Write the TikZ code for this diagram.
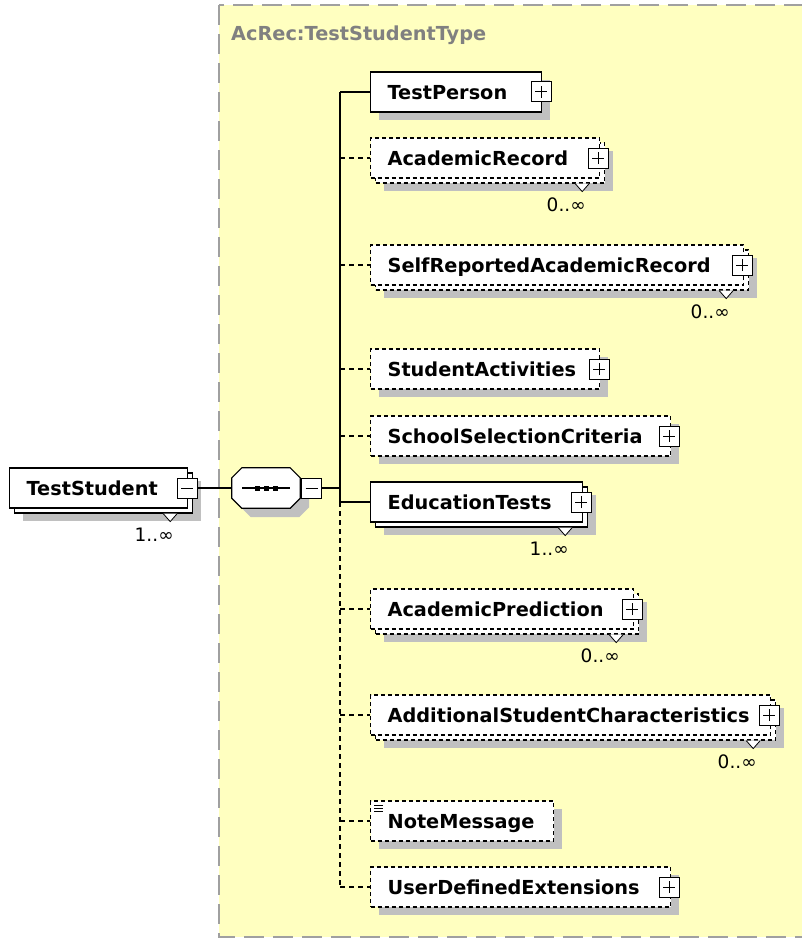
\documentclass[tikz,border=0pt]{standalone}
\usepackage{fontspec}
\setmainfont{DejaVu Sans}
\usetikzlibrary{shadows}
\definecolor{typefill}{RGB}{255,255,192}
\definecolor{typeline}{RGB}{160,160,160}
\definecolor{typetext}{RGB}{128,128,128}
\definecolor{shade}{RGB}{192,192,192}
\newcommand\elemfont{\hyphenpenalty=10000\relax\fontsize{19.3}{22}\selectfont\bfseries}

\begin{document}
\begin{tikzpicture}[x=1pt,y=-1pt,
    every node/.style={font=\elemfont},
    elem/.style={draw, fill=white, line width=1.2pt, anchor=west, align=left,
      minimum height=40pt, inner xsep=17pt, inner ysep=0pt, text height=14.1pt, text depth=0pt},
    opt/.style={dash pattern=on 4pt off 3pt},
    single/.style={drop shadow={shadow xshift=8pt, shadow yshift=-8pt, fill=shade, opacity=1}},
    multi/.style={drop shadow={shadow xshift=13pt, shadow yshift=-13pt, fill=shade, opacity=1},
      copy shadow={shadow xshift=5pt, shadow yshift=-5pt, draw=black, fill=white}},
    plusbox/.style={draw, solid, fill=white, line width=1pt, minimum size=20pt, inner sep=0pt,
      path picture={\draw[line width=1pt]
        ([xshift=-6pt]path picture bounding box.center) -- ([xshift=6pt]path picture bounding box.center)
        ([yshift=-6pt]path picture bounding box.center) -- ([yshift=6pt]path picture bounding box.center);}},
    minusbox/.style={draw, solid, fill=white, line width=1pt, minimum size=20pt, inner sep=0pt,
      path picture={\draw[line width=1pt]
        ([xshift=-6pt]path picture bounding box.center) -- ([xshift=6pt]path picture bounding box.center);}},
    seqbox/.style={minimum width=68pt, minimum height=40pt, inner sep=0pt},
    card/.style={font=\fontsize{18.5}{21}\selectfont, inner sep=0pt},
    chev/.style={draw, solid, fill=white, line width=0.8pt},
    conn/.style={line width=1.2pt}]

  \useasboundingbox (0,0) rectangle (802,939);

  % complex type frame
  \draw[fill=typefill, draw=typeline, line width=2pt, dash pattern=on 20pt off 9pt]
    (219,5) rectangle (812,937);
  \node[anchor=west, inner sep=0pt, text=typetext, text height=14.1pt, text depth=0pt]
    (tname) at (231,33) {AcRec:TestStudentType};

  % root element and sequence
  \node[elem, multi, text width=144pt] (ts) at (9,488) {TestStudent};
  \node[minusbox] (ts-x) at ([xshift=-1pt]ts.east) {};
  \draw[chev] ([xshift=-25pt,yshift=-5pt]ts.south east) -- ++(7,8) -- ++(7,-8);
  \node[card] (ts-c) at ([xshift=-34pt,yshift=-26pt]ts.south east) {1..∞};

  \node[seqbox] (seq) at (266,488) {};
  \draw[fill=white, line width=1.2pt,
      preaction={fill=shade, transform canvas={shift={(9pt,-9pt)}}}]
    ([xshift=10pt]seq.north west) -- ([xshift=-10pt]seq.north east)
    -- ([yshift=-10pt]seq.north east) -- ([yshift=10pt]seq.south east)
    -- ([xshift=-10pt]seq.south east) -- ([xshift=10pt]seq.south west)
    -- ([yshift=10pt]seq.south west) -- ([yshift=-10pt]seq.north west) -- cycle;
  \draw[line width=1.2pt] (seq.center) +(-24,0) -- +(24,0);
  \foreach \d in {-9,0,9}
    \fill (seq.center) +(\d-2.5,-2.5) rectangle +(\d+2.5,2.5);
  \node[minusbox, anchor=west] (seq-x) at ([xshift=1pt]seq.east) {};
  \coordinate (trunk) at (340,488);

  % children
  \node[elem, single, text width=137pt] (tp) at (370,92) {TestPerson};
  \node[elem, opt, multi, text width=195pt] (ar) at (370,158) {AcademicRecord};
  \node[elem, opt, multi, text width=339pt] (sr) at (370,265) {SelfReportedAcademicRecord};
  \node[elem, opt, single, text width=195pt] (sa) at (370,369) {StudentActivities};
  \node[elem, opt, single, text width=266pt] (ss) at (370,436) {SchoolSelectionCriteria};
  \node[elem, multi, text width=178pt] (et) at (370,502) {EducationTests};
  \node[elem, opt, multi, text width=229pt] (ap) at (370,609) {AcademicPrediction};
  \node[elem, opt, multi, text width=366pt] (asc) at (370,715) {AdditionalStudentCharacteristics};
  \node[elem, opt, single, text width=149pt] (nm) at (370,821) {NoteMessage};
  \node[elem, opt, single, text width=266pt] (ude) at (370,887) {UserDefinedExtensions};

  \node[plusbox] (tp-x) at ([xshift=-1pt]tp.east) {};
  \node[plusbox] (ar-x) at ([xshift=-2pt]ar.east) {};
  \node[plusbox] (sr-x) at ([xshift=-2pt]sr.east) {};
  \node[plusbox] (sa-x) at ([xshift=-1pt]sa.east) {};
  \node[plusbox] (ss-x) at ([xshift=-2pt]ss.east) {};
  \node[plusbox] (et-x) at ([xshift=-2pt]et.east) {};
  \node[plusbox] (ap-x) at ([xshift=-2pt]ap.east) {};
  \node[plusbox] (asc-x) at ([xshift=-2pt]asc.east) {};
  \node[plusbox] (ude-x) at ([xshift=-2pt]ude.east) {};

  \foreach \d in {5,8,11}
    \draw[line width=0.9pt] ([xshift=4pt,yshift=-\d pt]nm.north west) -- ++(9,0);

  % occurrences
  \foreach \n in {ar,sr,et,ap,asc}
    \draw[chev] ([xshift=-25pt,yshift=-5pt]\n.south east) -- ++(7,8) -- ++(7,-8);
  \node[card] (ar-c) at ([xshift=-34pt,yshift=-26pt]ar.south east) {0..∞};
  \node[card] (sr-c) at ([xshift=-34pt,yshift=-26pt]sr.south east) {0..∞};
  \node[card] (et-c) at ([xshift=-34pt,yshift=-26pt]et.south east) {1..∞};
  \node[card] (ap-c) at ([xshift=-34pt,yshift=-26pt]ap.south east) {0..∞};
  \node[card] (asc-c) at ([xshift=-34pt,yshift=-26pt]asc.south east) {0..∞};

  % connectors
  \draw[conn] (ts-x) -- (seq);
  \draw[conn] (seq-x) -- (trunk);
  \draw[conn] (trunk |- tp) -- (trunk |- et);
  \draw[conn] (trunk |- tp) -- (tp);
  \draw[conn] (trunk |- et) -- (et);
  \begin{scope}[conn, dash pattern=on 5pt off 4pt]
    \draw (trunk |- et) -- (trunk |- ude);
    \draw (trunk |- ar) -- (ar);
    \draw (trunk |- sr) -- (sr);
    \draw (trunk |- sa) -- (sa);
    \draw (trunk |- ss) -- (ss);
    \draw (trunk |- ap) -- (ap);
    \draw (trunk |- asc) -- (asc);
    \draw (trunk |- nm) -- (nm);
    \draw (trunk |- ude) -- (ude);
  \end{scope}
\end{tikzpicture}
\end{document}
